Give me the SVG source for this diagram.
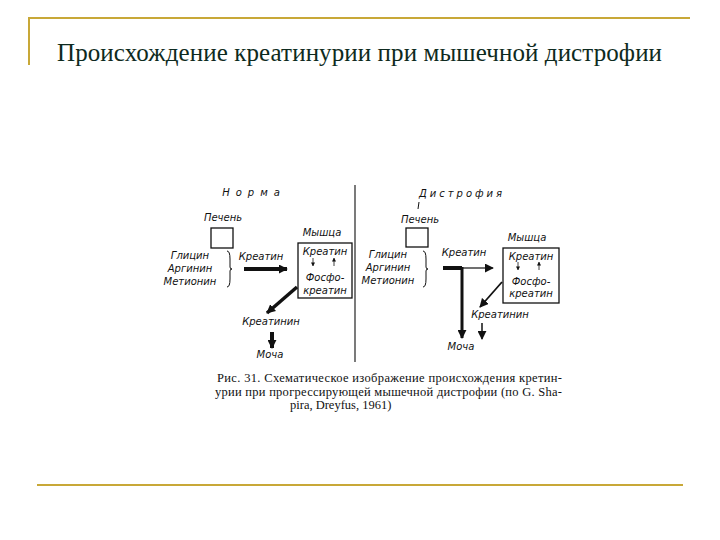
<svg xmlns="http://www.w3.org/2000/svg" width="720" height="540" viewBox="0 0 720 540">
<defs>
<marker id="ah" viewBox="0 0 10 10" refX="9" refY="5" markerWidth="4" markerHeight="5" markerUnits="userSpaceOnUse" orient="auto"><path d="M0,0L10,5L0,10z" fill="#111"/></marker>
<marker id="as" viewBox="0 0 10 10" refX="9" refY="5" markerWidth="9" markerHeight="9" markerUnits="userSpaceOnUse" orient="auto"><path d="M0,0L10,5L0,10z" fill="#111"/></marker>
<style>
.t{font-family:"DejaVu Sans",sans-serif;font-style:italic;font-size:10px;fill:#111;text-anchor:middle}
.c{font-family:"Liberation Serif",serif;font-size:12.5px;fill:#111}
.b{fill:#fff;stroke:#111;stroke-width:1.3}
.f{stroke:#c8a838;stroke-width:2}
</style>
</defs>
<rect width="720" height="540" fill="#fff"/>
<g id="frame">
<line class="f" x1="29" y1="18" x2="690" y2="18"/>
<line class="f" x1="29" y1="17" x2="29" y2="65"/>
<line class="f" x1="37" y1="485" x2="683" y2="485"/>
</g>
<text x="57" y="61" textLength="605" font-family="Liberation Serif,serif" font-size="25" fill="#0e2a20">Происхождение креатинурии при мышечной  дистрофии</text>
<g id="divider"><line x1="355" y1="185" x2="355" y2="362" stroke="#222" stroke-width="1.2"/></g>
<g id="norma">
<text class="t" x="254" y="196" letter-spacing="6">Норма</text>
<text class="t" x="223" y="221">Печень</text>
<rect class="b" x="211" y="228" width="22" height="20"/>
<text class="t" x="190" y="259">Глицин</text>
<text class="t" x="190" y="272">Аргинин</text>
<text class="t" x="190" y="285">Метионин</text>
<path d="M227,251 q3,0 3,8 v8 q0,2 2,2 q-2,0 -2,2 v8 q0,8 -3,8" fill="none" stroke="#111"/>
<text class="t" x="261" y="260">Креатин</text>
<text class="t" x="322" y="236">Мышца</text>
<rect class="b" x="298" y="243" width="54" height="55"/>
<text class="t" x="325" y="255">Креатин</text>
<text class="t" x="325" y="281">Фосфо-</text>
<text class="t" x="325" y="294">креатин</text>
<text class="t" x="271" y="325">Креатинин</text>
<text class="t" x="270" y="358">Моча</text>
</g>
<g id="dystrophy">
<text class="t" x="462" y="197" letter-spacing="3">Дистрофия</text>
<line x1="419" y1="202" x2="418" y2="209" stroke="#111"/>
<text class="t" x="420" y="223">Печень</text>
<rect class="b" x="406" y="228" width="22" height="19"/>
<text class="t" x="388" y="258">Глицин</text>
<text class="t" x="388" y="271">Аргинин</text>
<text class="t" x="388" y="284">Метионин</text>
<path d="M423,251 q3,0 3,8 v8 q0,2 2,2 q-2,0 -2,2 v8 q0,8 -3,8" fill="none" stroke="#111"/>
<text class="t" x="464" y="256">Креатин</text>
<text class="t" x="527" y="241">Мышца</text>
<rect class="b" x="503" y="248" width="56" height="55"/>
<text class="t" x="531" y="260">Креатин</text>
<text class="t" x="531" y="285">Фосфо-</text>
<text class="t" x="531" y="297">креатин</text>
<text class="t" x="500" y="318">Креатинин</text>
<text class="t" x="461" y="350">Моча</text>
</g>
<g id="connectors" stroke="#111" fill="none">
<line x1="244" y1="269" x2="287" y2="269" stroke-width="4" marker-end="url(#as)"/>
<line x1="313" y1="258" x2="313" y2="266" stroke-width="0.8" marker-end="url(#ah)"/>
<line x1="334" y1="266" x2="334" y2="258" stroke-width="0.8" marker-end="url(#ah)"/>
<line x1="297" y1="287" x2="267" y2="313" stroke-width="3.5" marker-end="url(#as)"/>
<line x1="272" y1="332" x2="272" y2="348" stroke-width="4" marker-end="url(#as)"/>
<line x1="443" y1="268" x2="462" y2="268" stroke-width="4"/>
<line x1="462" y1="268" x2="493" y2="268" stroke-width="1.2" marker-end="url(#as)"/>
<line x1="462" y1="267" x2="462" y2="338" stroke-width="3" marker-end="url(#as)"/>
<line x1="518" y1="262" x2="518" y2="270" stroke-width="0.8" marker-end="url(#ah)"/>
<line x1="539" y1="270" x2="539" y2="262" stroke-width="0.8" marker-end="url(#ah)"/>
<line x1="502" y1="282" x2="480" y2="307" stroke-width="1.8" marker-end="url(#as)"/>
<line x1="482" y1="323" x2="482" y2="339" stroke-width="1.5" marker-end="url(#as)"/>
</g>
<g id="caption">
<text class="c" x="217" y="382" textLength="345">Рис. 31. Схематическое изображение происхождения кретин-</text>
<text class="c" x="215" y="396" textLength="347">урии при прогрессирующей мышечной дистрофии (по G. Sha-</text>
<text class="c" x="290" y="409">pira, Dreyfus, 1961)</text>
</g>
</svg>
